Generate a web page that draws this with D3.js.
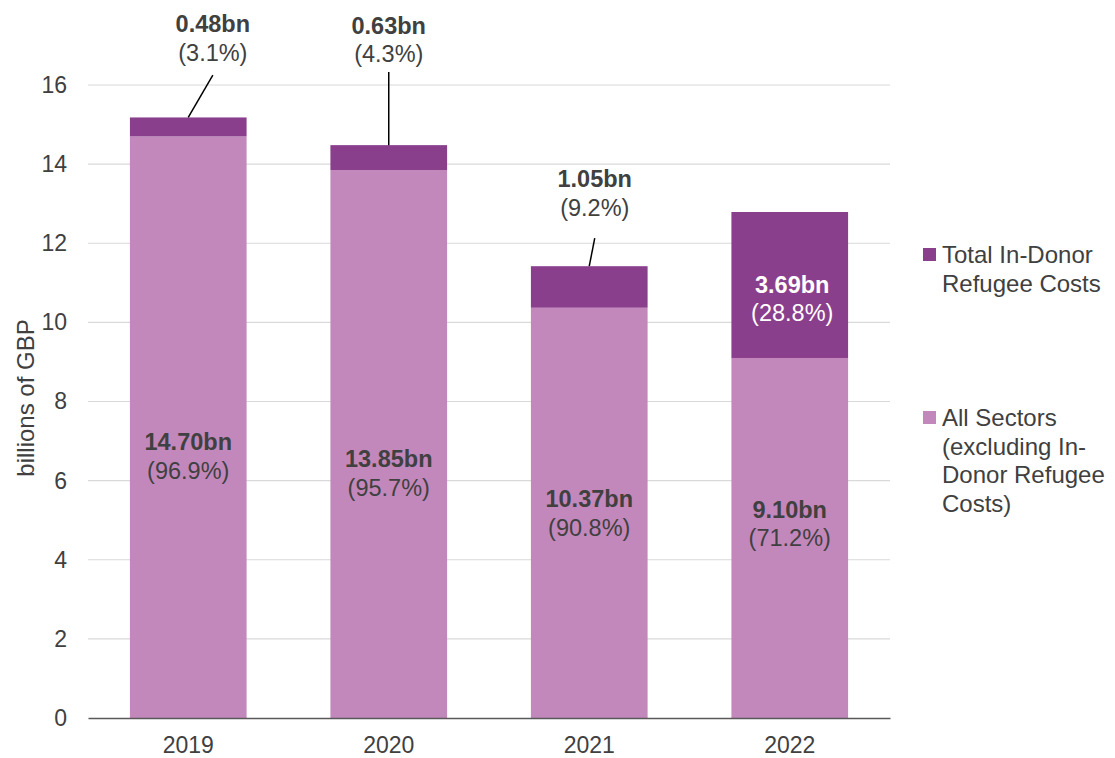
<!DOCTYPE html>
<html>
<head>
<meta charset="utf-8">
<script src="https://cdn.jsdelivr.net/npm/d3@7"></script>
<style>
  body { margin: 0; background: #fff; }
  text { font-family: "Liberation Sans", Arial, sans-serif; }
</style>
</head>
<body>
<div id="chart"></div>
<script>
// data
var years = ["2019", "2020", "2021", "2022"];
var allSectors = [14.70, 13.85, 10.37, 9.10];
var refugeeCosts = [0.48, 0.63, 1.05, 3.69];
var allSectorsPct = ["96.9%", "95.7%", "90.8%", "71.2%"];
var refugeePct = ["3.1%", "4.3%", "9.2%", "28.8%"];
var yTicks = [0, 2, 4, 6, 8, 10, 12, 14, 16];

// label placement (in data units / px offsets) - baseline of first line
var innerLabelAt = [6.77, 6.34, 5.33, 5.06];
var refugeeInside = [false, false, false, true];
var refugeeLabelAt = [17.34, 17.29, 13.42, 10.75];
var calloutDx = [24.6, 0, 5.5, 2.5];        // label centre offset from bar centre
var leaderTopAt = [16.25, 16.33, 12.13];

var W = 1115, H = 758;
var margin = {top: 85, left: 88},
    width = 890 - margin.left,
    height = 718 - margin.top;

var darkPurple = "#8a3f8d", lightPurple = "#c388bb", textCol = "#404040";
var labelSize = "23.5px";

var svg = d3.select("#chart").append("svg")
    .attr("width", W).attr("height", H)
  .append("g")
    .attr("transform", "translate(" + margin.left + "," + margin.top + ")");

var x = d3.scaleBand().domain(years).range([0, width])
    .paddingInner(0.418).paddingOuter(0.209);
var y = d3.scaleLinear().domain([0, 16]).range([height, 0]);

// gridlines
svg.selectAll(".grid").data(yTicks.filter(function(d){ return d > 0; }))
  .enter().append("line")
    .attr("x1", 0).attr("x2", width)
    .attr("y1", function(d){ return y(d); }).attr("y2", function(d){ return y(d); })
    .style("stroke", "#d9d9d9").style("stroke-width", 1.2);

// y axis labels
var yAxis = svg.append("g")
    .call(d3.axisLeft(y).tickValues(yTicks).tickSize(0).tickPadding(21));
yAxis.select(".domain").remove();
yAxis.selectAll("text").style("font-size", "23px").style("fill", textCol)
    .style("font-family", "'Liberation Sans', Arial, sans-serif");

// bars
var rows = years.map(function(yr, i) {
  return {year: yr, a: allSectors[i], r: refugeeCosts[i], i: i};
});

svg.selectAll(".barA").data(rows).enter().append("rect")
    .attr("x", function(d){ return x(d.year); })
    .attr("width", x.bandwidth())
    .attr("y", function(d){ return y(d.a); })
    .attr("height", function(d){ return y(0) - y(d.a); })
    .style("fill", lightPurple);

svg.selectAll(".barR").data(rows).enter().append("rect")
    .attr("x", function(d){ return x(d.year); })
    .attr("width", x.bandwidth())
    .attr("y", function(d){ return y(d.a + d.r); })
    .attr("height", function(d){ return y(d.a) - y(d.a + d.r); })
    .style("fill", darkPurple);

// x axis
var xAxis = svg.append("g")
    .attr("transform", "translate(0," + height + ")")
    .call(d3.axisBottom(x).tickSize(0).tickPadding(19));
xAxis.select(".domain").style("stroke", "#595959").style("stroke-width", 1.5);
xAxis.selectAll("text").style("font-size", "23px").style("fill", textCol)
    .style("font-family", "'Liberation Sans', Arial, sans-serif");

function twoLineLabel(cx, baseline, bold, plain, col) {
  var t = svg.append("text").attr("x", cx).attr("y", baseline)
      .attr("text-anchor", "middle").style("font-size", labelSize).style("fill", col);
  t.append("tspan").attr("x", cx).style("font-weight", "bold").text(bold);
  t.append("tspan").attr("x", cx).attr("dy", 28.5).text(plain);
}

// inner labels (all sectors)
rows.forEach(function(d) {
  var cx = x(d.year) + x.bandwidth() / 2;
  twoLineLabel(cx, y(innerLabelAt[d.i]), allSectors[d.i].toFixed(2) + "bn",
      "(" + allSectorsPct[d.i] + ")", textCol);
});

// refugee labels
rows.forEach(function(d) {
  var cx = x(d.year) + x.bandwidth() / 2;
  var lx = cx + calloutDx[d.i];
  twoLineLabel(lx, y(refugeeLabelAt[d.i]), refugeeCosts[d.i].toFixed(2) + "bn",
      "(" + refugeePct[d.i] + ")", refugeeInside[d.i] ? "#fff" : textCol);
  if (!refugeeInside[d.i]) {
    svg.append("line")
        .attr("x1", lx).attr("y1", y(leaderTopAt[d.i]))
        .attr("x2", cx).attr("y2", y(d.a + d.r))
        .style("stroke", "#000").style("stroke-width", 1.5);
  }
});

// legend
var legend = d3.select("svg").append("g").attr("transform", "translate(923,0)");
var legendItems = [
  {color: darkPurple, lines: ["Total In-Donor", "Refugee Costs"], top: 248},
  {color: lightPurple, lines: ["All Sectors", "(excluding In-", "Donor Refugee", "Costs)"], top: 411}
];
legendItems.forEach(function(it) {
  legend.append("rect").attr("x", 0).attr("y", it.top).attr("width", 13).attr("height", 13)
      .style("fill", it.color);
  var t = legend.append("text").attr("x", 19).attr("y", it.top + 15)
      .style("font-size", "24px").style("fill", textCol);
  it.lines.forEach(function(l, k) {
    t.append("tspan").attr("x", 19).attr("dy", k === 0 ? 0 : 28.5).text(l);
  });
});

// y axis title
d3.select("svg").append("text")
    .attr("transform", "translate(34," + 398 + ") rotate(-90)")
    .attr("text-anchor", "middle")
    .style("font-size", "24px").style("fill", textCol)
    .text("billions of GBP");
</script>
</body>
</html>
